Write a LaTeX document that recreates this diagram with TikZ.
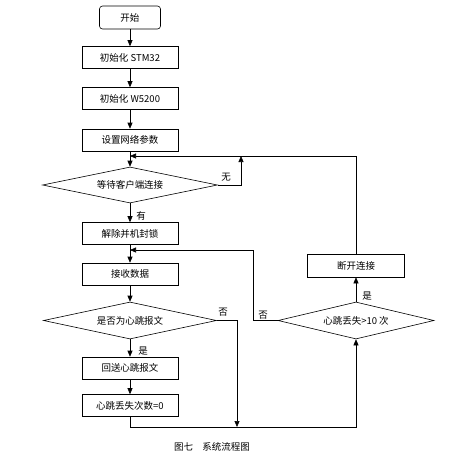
\documentclass[tikz,border=0pt]{standalone}
\usepackage{fontspec}
\setmainfont{Noto Sans CJK SC}
\usetikzlibrary{shapes.geometric,arrows.meta}

\begin{document}
\begin{tikzpicture}[x=1pt, y=-1pt, >={Triangle[length=6pt,width=5pt]},
    font=\fontsize{9.5}{11}\selectfont, line width=0.6pt,
    box/.style={draw, minimum width=96pt, minimum height=22pt, inner sep=0pt},
    cond/.style={draw, diamond, inner sep=0pt},
    lbl/.style={inner sep=1pt}]
    \useasboundingbox (0,0) rectangle (462,467);

    % 1. 主流程的框
    \node[box, rounded corners=3pt, minimum width=61pt, minimum height=23pt] (start) at (130,17.5) {开始};
    \node[box] (init1) at (130,57.5) {初始化 STM32};
    \node[box] (init2) at (130,98.5) {初始化 W5200};
    \node[box] (setnet) at (130,140) {设置网络参数};
    \node[cond, aspect=4.8, minimum width=175pt, minimum height=36pt] (wait) at (130,185) {等待客户端连接};
    \node[box] (unlock) at (130,233.5) {解除并机封锁};
    \node[box] (recv) at (130,274) {接收数据};
    \node[cond, aspect=4.7, minimum width=173pt, minimum height=37pt] (isbeat) at (130,320.5) {是否为心跳报文};
    \node[box] (reply) at (130,368) {回送心跳报文};
    \node[box] (reset) at (130,405.5) {心跳丢失次数=0};

    % 2. 右侧的框
    \node[cond, aspect=4.2, minimum width=156pt, minimum height=37pt] (lost) at (356,320.5) {心跳丢失>10 次};
    \node[box, minimum width=97pt, minimum height=23pt] (disc) at (356,265.5) {断开连接};

    % 3. 折线的拐点
    \coordinate (topL) at (130,156);
    \coordinate (topR) at (356,156);
    \coordinate (noUp) at (241,156);
    \coordinate (loopL) at (130,250);
    \coordinate (loopR) at (253,250);
    \coordinate (botL) at (130,427);
    \coordinate (botN) at (237,427);

    % 4. 主流程的箭头
    \draw[->] (start) -- (init1);
    \draw[->] (init1) -- (init2);
    \draw[->] (init2) -- (setnet);
    \draw[->] (setnet) -- (wait);
    \draw[->] (wait) -- (unlock);
    \draw[->] (unlock) -- (recv);
    \draw[->] (recv) -- (isbeat);
    \draw[->] (isbeat) -- (reply);
    \draw[->] (reply) -- (reset);

    % 5. 回路
    \draw[->] (wait.east) -| (noUp);
    \draw[->] (disc.north) |- (topL);
    \draw[->] (isbeat.east) -| (botN);
    \draw[->] (reset.south) -- (botL) -| (lost.south);
    \draw[->] (lost.north) -- (disc.south);
    \draw[->] (lost.west) -| (loopR) -- (loopL);

    % 6. 标注是/否
    \node[lbl] (lno) at (226,177) {无};
    \node[lbl] (lyes) at (141,216) {有};
    \node[lbl] (bno) at (223,312) {否};
    \node[lbl] (byes) at (143,351) {是};
    \node[lbl] (cno) at (263,315) {否};
    \node[lbl] (cyes) at (367,296) {是};

    % 7. 图题
    \node (caption) at (212,447) {图七\quad 系统流程图};
\end{tikzpicture}
\end{document}
